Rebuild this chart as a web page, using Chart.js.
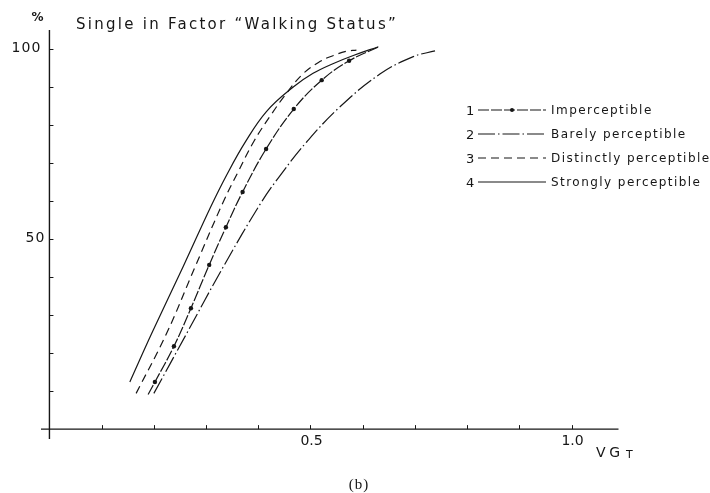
<!DOCTYPE html>
<html>
<head>
<meta charset="utf-8">
<title>Single in Factor Walking Status</title>
<script src="https://cdn.jsdelivr.net/npm/chart.js@4.4.1/dist/chart.umd.min.js"></script>
<style>
  html, body { margin: 0; background: #fff; }
  #wrap { width: 710px; height: 493px; }
</style>
</head>
<body>
<div id="wrap"><canvas id="chart" width="710" height="493"></canvas></div>
<script>
// cumulative % against VGT, one curve per perception level
const seriesNames = ['Imperceptible', 'Barely perceptible', 'Distinctly perceptible', 'Strongly perceptible'];

const imperceptibleX = [0.189, 0.202, 0.2385, 0.271, 0.306, 0.338, 0.370, 0.415, 0.468, 0.5215, 0.574, 0.630];
const imperceptibleY = [9.1, 12.4, 21.8, 31.8, 43.2, 53.1, 62.4, 73.7, 84.2, 91.8, 96.9, 100.5];

const barelyX = [0.200, 0.263, 0.333, 0.405, 0.445, 0.493, 0.5565, 0.633, 0.697, 0.7385];
const barelyY = [9.4, 25.2, 42.7, 59.5, 67.3, 75.6, 84.8, 93.4, 98.0, 99.5];

const distinctlyX = [0.166, 0.2245, 0.279, 0.332, 0.360, 0.392, 0.426, 0.450, 0.485, 0.518, 0.544, 0.569, 0.588];
const distinctlyY = [9.4, 25.2, 42.7, 59.5, 67.3, 75.8, 83.0, 87.6, 93.4, 96.7, 98.3, 99.4, 99.7];

const stronglyX = [0.154, 0.196, 0.256, 0.309, 0.340, 0.375, 0.416, 0.467, 0.505, 0.544, 0.582, 0.630];
const stronglyY = [12.4, 25.2, 42.7, 58.5, 67.0, 75.5, 83.6, 90.0, 93.6, 96.2, 98.3, 100.6];

const xTickValues = [0.5, 1.0];
const xTickLabels = ['0.5', '1.0'];
const yTickValues = [50, 100];
const yTickLabels = ['50', '100'];

const INK = '#161616';
const FONT = '"DejaVu Sans", sans-serif';

function points(xs, ys) {
  return xs.map((x, i) => ({ x: x, y: ys[i] }));
}

// text with letter spacing stretched to a given width
function spacedText(ctx, str, x, y, width) {
  ctx.letterSpacing = '0px';
  const base = ctx.measureText(str).width;
  const sp = width ? (width - base) / str.length : 0;
  ctx.letterSpacing = sp + 'px';
  ctx.fillText(str, x, y);
  ctx.letterSpacing = '0px';
}

const paperAxes = {
  id: 'paperAxes',
  beforeDatasetsDraw(chart) {
    const ctx = chart.ctx;
    const xs = chart.scales.x, ys = chart.scales.y;
    const x0 = xs.getPixelForValue(0), y0 = ys.getPixelForValue(0);
    ctx.save();
    ctx.strokeStyle = INK;
    ctx.lineWidth = 1.4;
    ctx.beginPath();
    ctx.moveTo(xs.left + 2, y0);
    ctx.lineTo(xs.right, y0);
    ctx.moveTo(x0, ys.bottom);
    ctx.lineTo(x0, ys.top);
    ctx.stroke();

    // short ticks pointing into the plot
    ctx.lineWidth = 1;
    ctx.beginPath();
    for (let v = 0.1; v < 1.05; v += 0.1) {
      const px = Math.round(xs.getPixelForValue(v)) + 0.5;
      ctx.moveTo(px, y0);
      ctx.lineTo(px, y0 - 4);
    }
    for (let v = 10; v <= 100; v += 10) {
      const py = Math.round(ys.getPixelForValue(v)) + 0.5;
      ctx.moveTo(x0, py);
      ctx.lineTo(x0 + 4, py);
    }
    ctx.stroke();

    ctx.fillStyle = INK;
    ctx.font = '14px ' + FONT;
    ctx.textBaseline = 'alphabetic';
    yTickValues.forEach((v, i) => {
      const py = ys.getPixelForValue(v);
      const w = yTickLabels[i].length * 10;
      spacedText(ctx, yTickLabels[i], x0 - 8 - w - (i ? 0 : -4), py + 3, w);
    });
    xTickValues.forEach((v, i) => {
      const px = xs.getPixelForValue(v);
      spacedText(ctx, xTickLabels[i], px - 10, y0 + 16, 22);
    });
    ctx.restore();
  },
  afterDraw(chart) {
    const ctx = chart.ctx;
    const x0 = chart.scales.x.getPixelForValue(0);
    ctx.save();
    ctx.fillStyle = INK;
    ctx.textBaseline = 'alphabetic';

    ctx.font = '15px ' + FONT;
    spacedText(ctx, 'Single in Factor \u201CWalking Status\u201D', 76, 29, 322);

    ctx.font = 'bold 12px ' + FONT;
    ctx.textAlign = 'center';
    ctx.fillText('%', x0 - 12, 21);
    ctx.textAlign = 'left';

    ctx.font = '14px ' + FONT;
    spacedText(ctx, 'VG', 596, 457, 28);
    ctx.font = '11px ' + FONT;
    ctx.fillText('T', 626, 458);

    ctx.font = '15px "Liberation Serif", serif';
    ctx.textAlign = 'center';
    ctx.letterSpacing = '1px';
    ctx.fillText('(b)', 359, 489);
    ctx.letterSpacing = '0px';
    ctx.textAlign = 'left';

    // legend: number, line sample, label
    const rows = [110, 134, 158, 182];
    chart.data.datasets.forEach((ds, i) => {
      const cy = rows[i];
      ctx.font = '13px ' + FONT;
      ctx.fillText(String(i + 1), 466, cy + 5);
      ctx.strokeStyle = INK;
      ctx.lineWidth = 1.2;
      ctx.setLineDash(ds.borderDash || []);
      ctx.beginPath();
      ctx.moveTo(478, cy);
      ctx.lineTo(546, cy);
      ctx.stroke();
      ctx.setLineDash([]);
      if (i === 0) {
        ctx.beginPath();
        ctx.arc(512, cy, 2, 0, Math.PI * 2);
        ctx.fill();
      }
      ctx.font = '12px ' + FONT;
      ctx.letterSpacing = '1.45px';
      ctx.fillText(seriesNames[i], 551, cy + 4);
      ctx.letterSpacing = '0px';
    });
    ctx.restore();
  }
};

const lineBase = {
  borderColor: INK,
  backgroundColor: INK,
  borderWidth: 1.2,
  fill: false,
  tension: 0.4,
  pointRadius: 0,
  clip: false
};

new Chart(document.getElementById('chart'), {
  type: 'line',
  data: {
    datasets: [
      Object.assign({}, lineBase, {
        label: seriesNames[0],
        data: points(imperceptibleX, imperceptibleY),
        borderDash: [11, 2],
        pointRadius: imperceptibleX.map((_, i) => (i === 0 || i === imperceptibleX.length - 1) ? 0 : 2.2),
        pointBorderWidth: 0
      }),
      Object.assign({}, lineBase, {
        label: seriesNames[1],
        data: points(barelyX, barelyY),
        borderDash: [17, 3, 1.5, 3]
      }),
      Object.assign({}, lineBase, {
        label: seriesNames[2],
        data: points(distinctlyX, distinctlyY),
        borderDash: [8, 5]
      }),
      Object.assign({}, lineBase, {
        label: seriesNames[3],
        data: points(stronglyX, stronglyY)
      })
    ]
  },
  options: {
    responsive: false,
    animation: false,
    layout: { padding: { left: 39, right: 91.5, top: 30, bottom: 54 } },
    scales: {
      x: { type: 'linear', min: -0.02, max: 1.09, display: false },
      y: { type: 'linear', min: -2.6, max: 105, display: false }
    },
    plugins: {
      legend: { display: false },
      tooltip: { enabled: false }
    }
  },
  plugins: [paperAxes]
});
</script>
</body>
</html>
